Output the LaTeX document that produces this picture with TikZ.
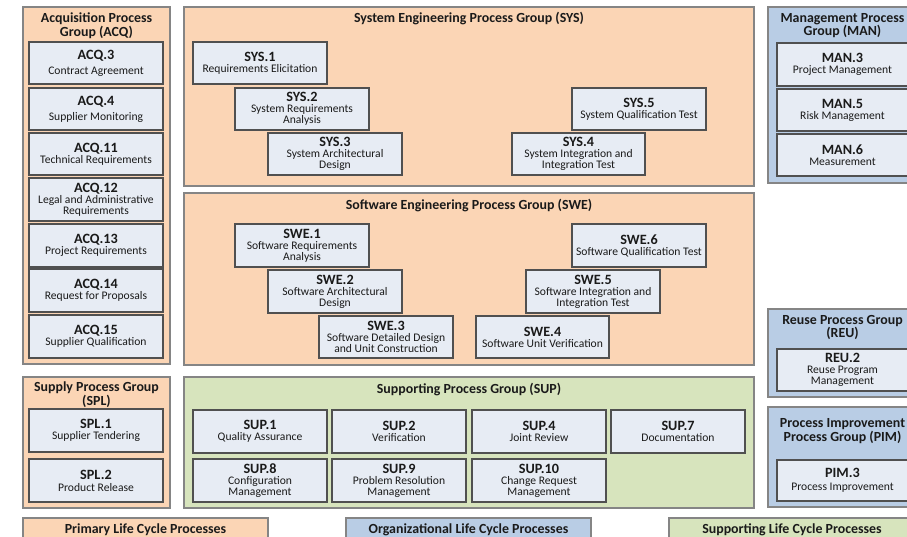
\documentclass[tikz,border=0pt]{standalone}
\usepackage{fontspec}
\setmainfont{Carlito}
\definecolor{peach}{HTML}{FBD5B5}
\definecolor{bluegrp}{HTML}{B9CDE5}
\definecolor{greengrp}{HTML}{D7E4BD}
\definecolor{procfill}{HTML}{E7ECF4}
\definecolor{procline}{HTML}{505050}
\definecolor{grpline}{HTML}{858585}
\definecolor{txt}{HTML}{1A1A1A}
\tikzset{
  grp/.style={draw=grpline, line width=1.2pt, inner sep=0pt},
  peachgrp/.style={grp, fill=peach},
  bluegroup/.style={grp, fill=bluegrp},
  greengroup/.style={grp, fill=greengrp},
  procbox/.style={draw=procline, fill=procfill, line width=1.1pt, align=center,
    inner sep=0pt, text=txt, font=\fontsize{11.6}{11.1}\selectfont},
  gtitle/.style={font=\fontsize{13.9}{13.5}\selectfont\bfseries, align=center,
    inner sep=0pt, text=txt},
}
\newcommand\rnode[7]{\node[#1, minimum width={((#5)-(#3))*1pt}, minimum height={((#6)-(#4))*1pt}]
  (#2) at ({((#3)+(#5))/2},{((#4)+(#6))/2}) {#7};}
\newcommand\ptx[1]{{\fontsize{14.2}{14}\selectfont\bfseries #1}}
\begin{document}
\begin{tikzpicture}[x=1pt,y=-1pt]
\useasboundingbox (0,0) rectangle (907,536);
\clip (0,0) rectangle (907,536);
\fill[white] (0,0) rectangle (907,536);
% groups
\rnode{peachgrp}{acq}{23}{7}{170}{364}{}
\rnode{peachgrp}{spl}{23}{377}{170}{508}{}
\rnode{peachgrp}{sys}{184}{7}{754}{186}{}
\rnode{peachgrp}{swe}{184}{193}{754}{365}{}
\rnode{greengroup}{sup}{184}{377}{754}{508}{}
\rnode{bluegroup}{man}{768}{7}{917}{183}{}
\rnode{bluegroup}{reu}{768}{309}{917}{397}{}
\rnode{bluegroup}{pim}{768}{407}{917}{507}{}
% legend
\rnode{peachgrp}{legp}{23}{518}{268}{548}{}
\rnode{bluegroup}{lego}{346}{518}{591}{548}{}
\rnode{greengroup}{legs}{669}{518}{915}{548}{}
\node[gtitle, anchor=base] (legpT) at (145.5,533) {Primary Life Cycle Processes};
\node[gtitle, anchor=base] (legoT) at (468.5,533) {Organizational Life Cycle Processes};
\node[gtitle, anchor=base] (legsT) at (792,533) {Supporting Life Cycle Processes};
% group titles (anchor = baseline of last line)
\node[gtitle, anchor=base] (acqT) at (96.5,36) {Acquisition Process\\Group (ACQ)};
\node[gtitle, anchor=base] (splT) at (96.5,405) {Supply Process Group\\(SPL)};
\node[gtitle, anchor=base] (sysT) at (469,22) {System Engineering Process Group (SYS)};
\node[gtitle, anchor=base] (sweT) at (469,209.3) {Software Engineering Process Group (SWE)};
\node[gtitle, anchor=base] (supT) at (469,393.3) {Supporting Process Group (SUP)};
\node[gtitle, anchor=base] (manT) at (842.5,35.5) {Management Process\\Group (MAN)};
\node[gtitle, anchor=base] (reuT) at (842.5,337.5) {Reuse Process Group\\(REU)};
\node[gtitle, anchor=base] (pimT) at (842.5,441) {Process Improvement\\Process Group (PIM)};
% ACQ
\rnode{procbox}{acq3}{29}{42}{163}{84}{\ptx{ACQ.3}\\[3.7pt]Contract Agreement}
\rnode{procbox}{acq4}{29}{88}{163}{130}{\ptx{ACQ.4}\\[3.7pt]Supplier Monitoring}
\rnode{procbox}{acq11}{29}{133}{163}{175}{\ptx{ACQ.11}\\Technical Requirements}
\rnode{procbox}{acq12}{29}{178}{163}{221}{\ptx{ACQ.12}\\Legal and Administrative\\Requirements}
\rnode{procbox}{acq13}{29}{224}{163}{267}{\ptx{ACQ.13}\\Project Requirements}
\rnode{procbox}{acq14}{29}{269}{163}{312}{\ptx{ACQ.14}\\Request for Proposals}
\rnode{procbox}{acq15}{29}{315}{163}{358}{\ptx{ACQ.15}\\Supplier Qualification}
% SPL
\rnode{procbox}{spl1}{29}{409}{163}{452}{\ptx{SPL.1}\\Supplier Tendering}
\rnode{procbox}{spl2}{29}{459}{163}{502}{\ptx{SPL.2}\\[1pt]Product Release}
% SYS
\rnode{procbox}{sys1}{193}{42}{327}{84}{\ptx{SYS.1}\\Requirements Elicitation}
\rnode{procbox}{sys2}{235}{88}{369}{130}{\ptx{SYS.2}\\System Requirements\\Analysis}
\rnode{procbox}{sys3}{268}{133}{402}{175}{\ptx{SYS.3}\\System Architectural\\Design}
\rnode{procbox}{sys5}{572}{88}{706}{130}{\ptx{SYS.5}\\System Qualification Test}
\rnode{procbox}{sys4}{512}{133}{645}{175}{\ptx{SYS.4}\\System Integration and\\Integration Test}
% SWE
\rnode{procbox}{swe1}{235}{224}{369}{267}{\ptx{SWE.1}\\Software Requirements\\Analysis}
\rnode{procbox}{swe2}{268}{270}{402}{313}{\ptx{SWE.2}\\Software Architectural\\Design}
\rnode{procbox}{swe3}{319}{316}{453}{358}{\ptx{SWE.3}\\Software Detailed Design\\and Unit Construction}
\rnode{procbox}{swe6}{572}{224}{706}{267}{\ptx{SWE.6}\\Software Qualification Test}
\rnode{procbox}{swe5}{526}{270}{660}{313}{\ptx{SWE.5}\\Software Integration and\\Integration Test}
\rnode{procbox}{swe4}{476}{316}{609}{358}{\ptx{SWE.4}\\Software Unit Verification}
% SUP
\rnode{procbox}{sup1}{193}{410}{327}{453}{\ptx{SUP.1}\\Quality Assurance}
\rnode{procbox}{sup2}{332}{410}{466}{453}{\ptx{SUP.2}\\Verification}
\rnode{procbox}{sup4}{472}{410}{606}{453}{\ptx{SUP.4}\\Joint Review}
\rnode{procbox}{sup7}{611}{410}{745}{453}{\ptx{SUP.7}\\Documentation}
\rnode{procbox}{sup8}{193}{459}{327}{502}{\ptx{SUP.8}\\Configuration\\Management}
\rnode{procbox}{sup9}{332}{459}{466}{502}{\ptx{SUP.9}\\Problem Resolution\\Management}
\rnode{procbox}{sup10}{472}{459}{606}{502}{\ptx{SUP.10}\\Change Request\\Management}
% MAN / REU / PIM
\rnode{procbox}{man3}{777}{43}{908}{86}{\ptx{MAN.3}\\Project Management}
\rnode{procbox}{man5}{777}{89}{908}{131}{\ptx{MAN.5}\\Risk Management}
\rnode{procbox}{man6}{777}{134}{908}{176}{\ptx{MAN.6}\\Measurement}
\rnode{procbox}{reu2}{777}{349}{908}{391}{\ptx{REU.2}\\Reuse Program\\Management}
\rnode{procbox}{pim3}{777}{460}{908}{501}{\ptx{PIM.3}\\[1.5pt]Process Improvement}
\end{tikzpicture}
\end{document}
